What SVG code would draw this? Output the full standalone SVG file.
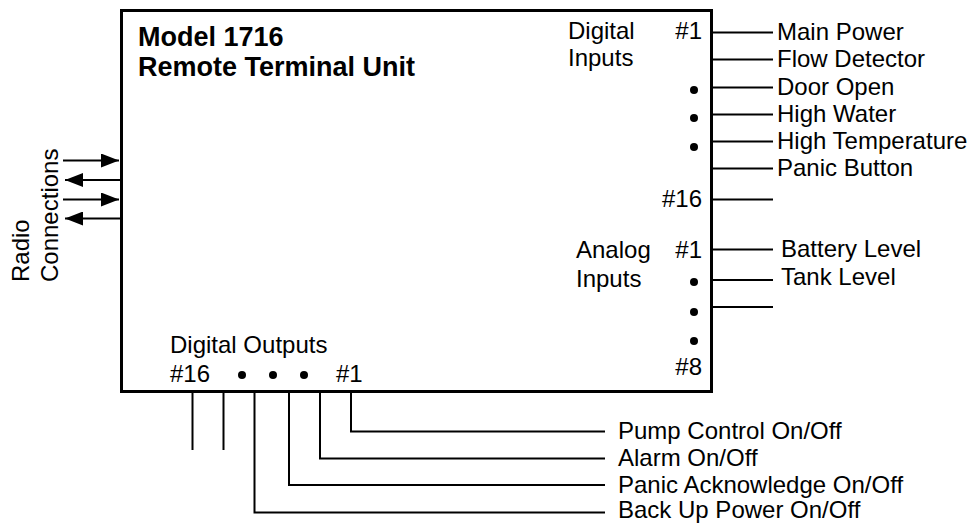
<svg xmlns="http://www.w3.org/2000/svg" width="978" height="523" viewBox="0 0 978 523">
<defs>
<style>
text{font-family:"Liberation Sans",Arial,sans-serif;font-size:24px;fill:#000}
.title{font-weight:bold;font-size:27px}
.r{text-anchor:end}
.ln{stroke:#000;stroke-width:2;fill:none}
.box{stroke:#000;stroke-width:3;fill:#fff}
</style>
<marker id="ah" viewBox="0 0 18 14" refX="18" refY="7" markerWidth="18" markerHeight="14" markerUnits="userSpaceOnUse" orient="auto">
<path d="M0,0 L18,7 L0,14 Z" fill="#000"/>
</marker>
</defs>
<rect width="978" height="523" fill="#fff"/>

<g id="rtu">
<rect class="box" x="121.5" y="10.5" width="590" height="381"/>
<text class="title" x="138" y="46">Model 1716</text>
<text class="title" x="138" y="76">Remote Terminal Unit</text>
</g>

<g id="digital-inputs">
<text x="568" y="39">Digital</text>
<text x="568" y="66">Inputs</text>
<text class="r" x="702" y="39">#1</text>
<circle cx="694" cy="90" r="4"/>
<circle cx="694" cy="118" r="4"/>
<circle cx="694" cy="147" r="4"/>
<text class="r" x="702" y="207">#16</text>
</g>

<g id="analog-inputs">
<text x="576" y="258">Analog</text>
<text x="576" y="287">Inputs</text>
<text class="r" x="702" y="258">#1</text>
<circle cx="694" cy="282" r="4"/>
<circle cx="694" cy="312" r="4"/>
<circle cx="694" cy="341" r="4"/>
<text class="r" x="702" y="375">#8</text>
</g>

<g id="digital-outputs">
<text x="170" y="353">Digital Outputs</text>
<text x="170" y="382">#16</text>
<circle cx="242" cy="375" r="4"/>
<circle cx="273" cy="375" r="4"/>
<circle cx="304" cy="375" r="4"/>
<text x="336" y="382">#1</text>
</g>

<g id="radio">
<text transform="translate(29,282) rotate(-90)">Radio</text>
<text transform="translate(58,282) rotate(-90)">Connections</text>
</g>

<g id="input-labels">
<text x="777" y="40">Main Power</text>
<text x="777" y="67">Flow Detector</text>
<text x="777" y="95">Door Open</text>
<text x="777" y="122">High Water</text>
<text x="777" y="149">High Temperature</text>
<text x="777" y="176">Panic Button</text>
<text x="781" y="257">Battery Level</text>
<text x="781" y="285">Tank Level</text>
</g>

<g id="output-labels">
<text x="618" y="439">Pump Control On/Off</text>
<text x="618" y="466">Alarm On/Off</text>
<text x="618" y="493">Panic Acknowledge On/Off</text>
<text x="618" y="518">Back Up Power On/Off</text>
</g>

<g id="connectors">
<line class="ln" x1="713" y1="32.5" x2="773" y2="32.5"/>
<line class="ln" x1="713" y1="59.5" x2="773" y2="59.5"/>
<line class="ln" x1="713" y1="87.5" x2="773" y2="87.5"/>
<line class="ln" x1="713" y1="114.5" x2="773" y2="114.5"/>
<line class="ln" x1="713" y1="141.5" x2="773" y2="141.5"/>
<line class="ln" x1="713" y1="168.5" x2="773" y2="168.5"/>
<line class="ln" x1="713" y1="199.5" x2="773" y2="199.5"/>
<line class="ln" x1="713" y1="249.5" x2="773" y2="249.5"/>
<line class="ln" x1="713" y1="280" x2="773" y2="280"/>
<line class="ln" x1="713" y1="307" x2="773" y2="307"/>

<line class="ln" x1="192.5" y1="393" x2="192.5" y2="450"/>
<line class="ln" x1="223.5" y1="393" x2="223.5" y2="450"/>
<polyline class="ln" points="351,393 351,431.5 605,431.5"/>
<polyline class="ln" points="320,393 320,458.5 605,458.5"/>
<polyline class="ln" points="289,393 289,485 605,485"/>
<polyline class="ln" points="254.5,393 254.5,512.5 605,512.5"/>

<line class="ln" x1="63" y1="160.5" x2="119" y2="160.5" marker-end="url(#ah)"/>
<line class="ln" x1="120" y1="180" x2="65" y2="180" marker-end="url(#ah)"/>
<line class="ln" x1="63" y1="199.5" x2="119" y2="199.5" marker-end="url(#ah)"/>
<line class="ln" x1="120" y1="218.5" x2="65" y2="218.5" marker-end="url(#ah)"/>
</g>
</svg>
